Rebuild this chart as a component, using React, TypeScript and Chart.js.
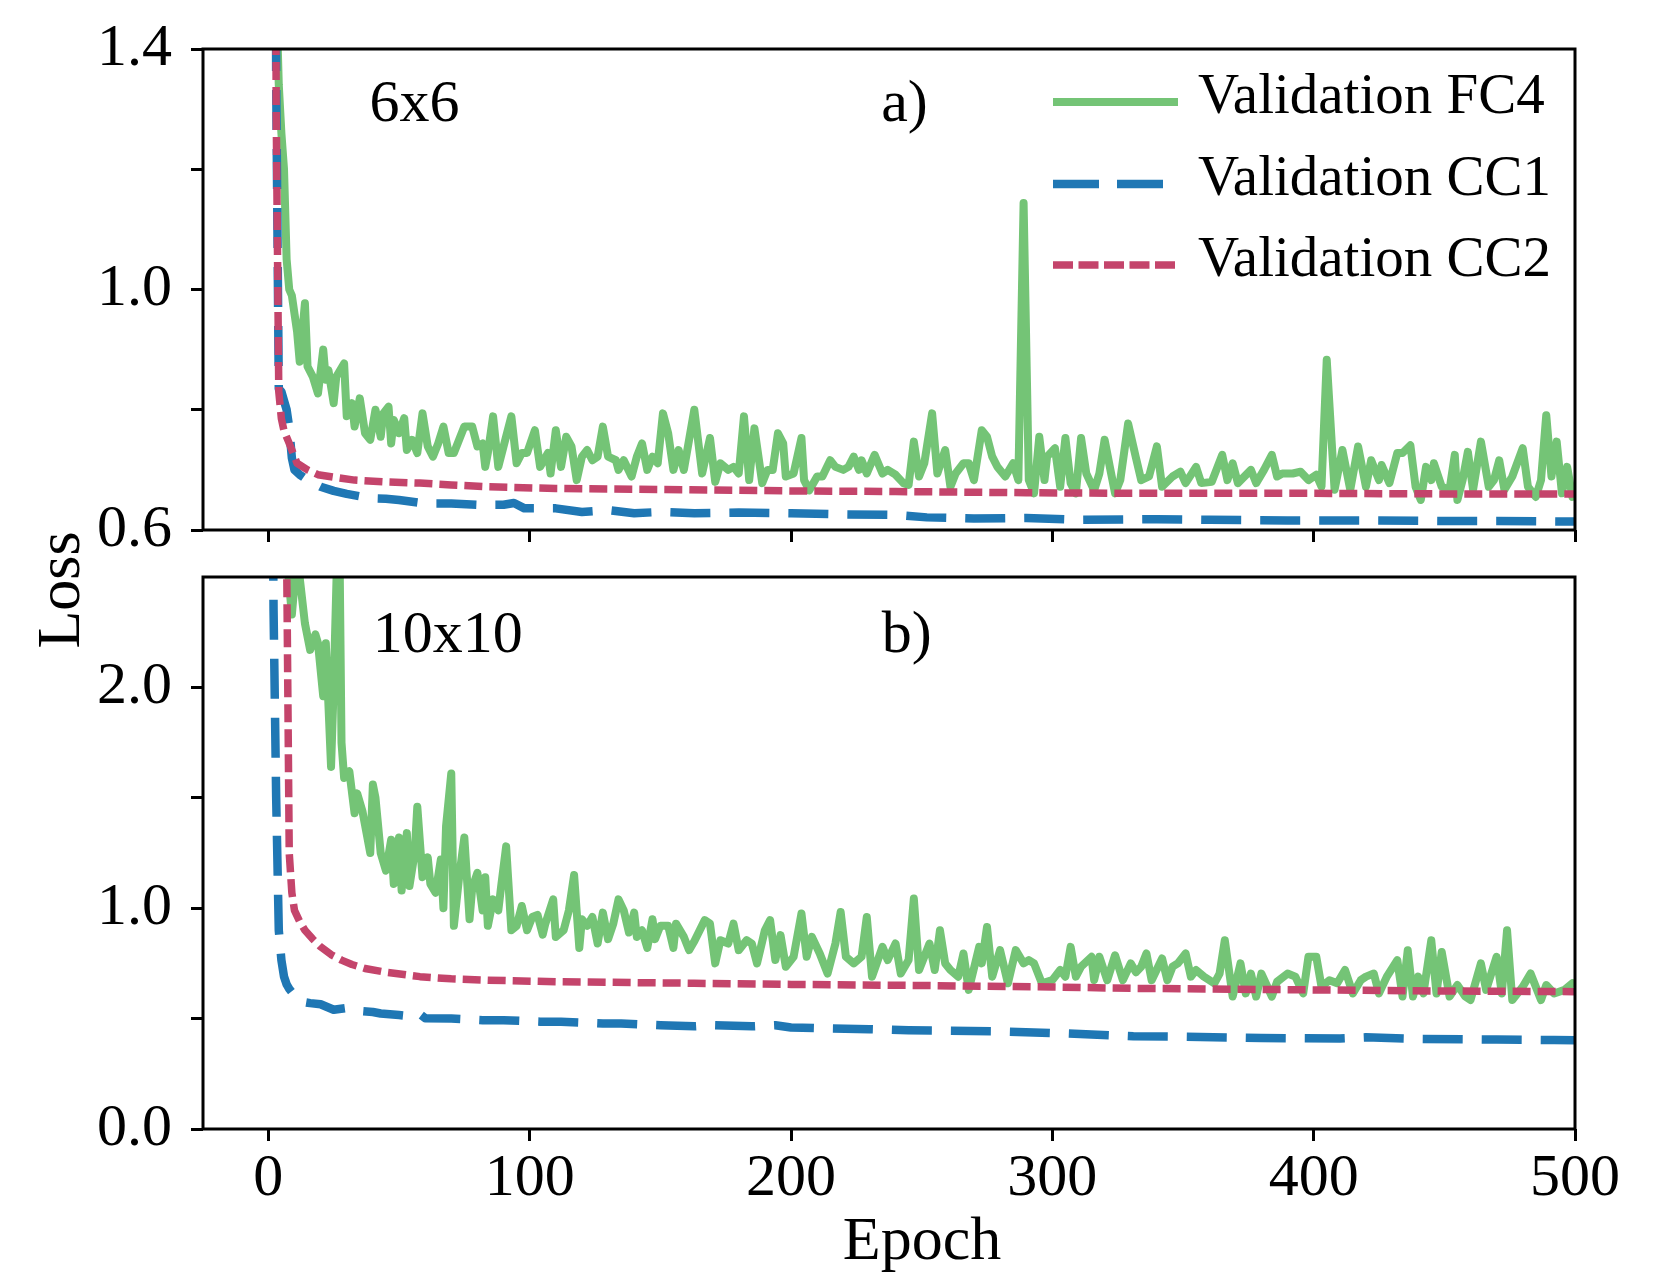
import React, { useEffect, useRef } from 'react';
import { Chart, registerables } from 'chart.js';

Chart.register(...registerables);

// ---------- labels / ticks ----------
const SERIES_LABELS = ['Validation FC4', 'Validation CC1', 'Validation CC2'];
const PANEL_TITLES_A = ['6x6', 'a)'];
const PANEL_TITLES_B = ['10x10', 'b)'];
const X_TITLE = 'Epoch';
const Y_TITLE = 'Loss';
const X_TICKS = [0, 100, 200, 300, 400, 500];
const Y_TICKS_A = [0.6, 0.8, 1.0, 1.2, 1.4];
const Y_LABELED_A = [0.6, 1.0, 1.4];
const Y_TICKS_B = [0, 0.5, 1.0, 1.5, 2.0];
const Y_LABELED_B = [0, 1.0, 2.0];

// ---------- panel a) 6x6 ----------
const fc4EpochsA = [
  3, 4, 5, 6, 7, 8, 9, 11, 12, 14,
  15, 17, 19, 21, 22, 23, 25, 26, 29, 30,
  32, 33, 35, 37, 39, 41, 43, 44, 46, 47,
  48, 50, 52, 53, 55, 57, 59, 61, 63, 65,
  67, 69, 71, 73, 75, 78, 80, 82, 83, 84,
  86, 88, 90, 93, 95, 97, 99, 102, 104, 107,
  108, 110, 112, 114, 116, 118, 120, 122, 124, 126,
  128, 130, 133, 134, 136, 139, 141, 143, 145, 147,
  149, 151, 153, 155, 157, 159, 163, 166, 169, 171,
  173, 176, 178, 180, 182, 184, 186, 189, 191, 193,
  195, 197, 198, 201, 204, 205, 207, 210, 212, 215,
  217, 220, 222, 224, 226, 227, 229, 232, 235, 237,
  240, 243, 245, 247, 249, 251, 254, 256, 259, 261,
  263, 266, 268, 270, 273, 275, 277, 279, 282, 285,
  287, 289, 291, 293, 295, 297, 298, 301, 303, 305,
  307, 309, 311, 313, 316, 318, 320, 322, 324, 326,
  329, 332, 334, 337, 340, 342, 346, 349, 351, 355,
  357, 361, 365, 367, 369, 371, 376, 378, 381, 384,
  386, 388, 392, 395, 398, 401, 403, 405, 408, 411,
  414, 417, 420, 422, 425, 426, 429, 432, 434, 437,
  439, 441, 443, 445, 446, 449, 452, 454, 455, 457,
  459, 461, 464, 467, 469, 471, 473, 476, 480, 482,
  485, 487, 489, 491, 493, 495, 497, 499, 500,
];
const fc4LossA = [
  1.5, 1.34, 1.26, 1.2, 1.05, 1.0, 0.99, 0.93, 0.88, 0.977,
  0.872, 0.855, 0.827, 0.9, 0.85, 0.866, 0.811, 0.855, 0.877, 0.789,
  0.811, 0.772, 0.819, 0.761, 0.75, 0.8, 0.755, 0.794, 0.805, 0.744,
  0.783, 0.761, 0.786, 0.733, 0.75, 0.728, 0.794, 0.739, 0.722, 0.744,
  0.772, 0.728, 0.728, 0.75, 0.772, 0.772, 0.739, 0.744, 0.705, 0.728,
  0.789, 0.705, 0.739, 0.789, 0.711, 0.728, 0.728, 0.766, 0.705, 0.728,
  0.694, 0.766, 0.705, 0.755, 0.739, 0.683, 0.722, 0.733, 0.716, 0.722,
  0.772, 0.722, 0.716, 0.7, 0.716, 0.689, 0.722, 0.744, 0.7, 0.722,
  0.711, 0.794, 0.761, 0.7, 0.733, 0.7, 0.8, 0.694, 0.753, 0.68,
  0.711, 0.7, 0.705, 0.694, 0.789, 0.683, 0.769, 0.678, 0.7, 0.7,
  0.761, 0.744, 0.689, 0.694, 0.753, 0.683, 0.666, 0.689, 0.689, 0.716,
  0.705, 0.7, 0.705, 0.722, 0.7, 0.716, 0.694, 0.725, 0.694, 0.7,
  0.692, 0.678, 0.675, 0.747, 0.689, 0.711, 0.794, 0.694, 0.733, 0.672,
  0.694, 0.711, 0.711, 0.683, 0.766, 0.755, 0.722, 0.705, 0.689, 0.711,
  0.683, 1.144, 0.683, 0.661, 0.755, 0.683, 0.722, 0.736, 0.672, 0.753,
  0.678, 0.661, 0.753, 0.694, 0.666, 0.694, 0.75, 0.705, 0.661, 0.683,
  0.777, 0.72, 0.683, 0.689, 0.739, 0.672, 0.689, 0.697, 0.678, 0.705,
  0.678, 0.68, 0.725, 0.683, 0.711, 0.678, 0.7, 0.678, 0.7, 0.725,
  0.689, 0.694, 0.694, 0.697, 0.683, 0.692, 0.672, 0.883, 0.667, 0.733,
  0.667, 0.739, 0.672, 0.716, 0.683, 0.708, 0.678, 0.728, 0.728, 0.741,
  0.672, 0.65, 0.705, 0.683, 0.711, 0.672, 0.667, 0.725, 0.65, 0.683,
  0.73, 0.667, 0.747, 0.672, 0.683, 0.716, 0.667, 0.689, 0.736, 0.672,
  0.655, 0.683, 0.791, 0.689, 0.747, 0.661, 0.705, 0.655, 0.66,
];
const cc1EpochsA = [
  2, 3, 4, 5, 6, 7, 8, 9, 10, 12,
  15, 20, 25, 30, 35, 38, 45, 50, 55, 60,
  70, 80, 90, 94, 98, 110, 120, 130, 140, 150,
  163, 180, 200, 220, 240, 252, 270, 290, 310, 340,
  360, 390, 420, 450, 470, 500,
];
const cc1LossA = [
  3.0, 1.35, 0.835, 0.83, 0.815, 0.8, 0.77, 0.72, 0.7, 0.692,
  0.683, 0.672, 0.665, 0.66, 0.656, 0.653, 0.652, 0.65, 0.647, 0.644,
  0.644, 0.642, 0.642, 0.645, 0.636, 0.636, 0.63, 0.633, 0.628, 0.63,
  0.628, 0.629, 0.628, 0.626, 0.625, 0.621, 0.619, 0.62, 0.617, 0.618,
  0.617, 0.616, 0.616, 0.615, 0.615, 0.614,
];
const cc2EpochsA = [
  2, 3, 4, 5, 6, 8, 11, 15, 19, 25,
  33, 45, 58, 70, 84, 110, 160, 200, 240, 290,
  330, 400, 450, 500,
];
const cc2LossA = [
  3.0, 1.3, 0.83, 0.785, 0.765, 0.744, 0.711, 0.7, 0.692, 0.688,
  0.683, 0.68, 0.678, 0.675, 0.672, 0.669, 0.667, 0.665, 0.664, 0.662,
  0.661, 0.661, 0.66, 0.66,
];

// ---------- panel b) 10x10 ----------
const fc4EpochsB = [
  6, 7, 9, 11, 14, 16, 18, 19, 21, 22,
  24, 25, 27, 28, 29, 31, 33, 34, 36, 39,
  40, 41, 43, 45, 47, 48, 50, 51, 53, 54,
  56, 57, 59, 61, 62, 64, 66, 67, 68, 70,
  71, 73, 75, 77, 78, 80, 82, 83, 84, 86,
  88, 89, 91, 93, 95, 97, 99, 101, 103, 105,
  106, 109, 110, 113, 115, 117, 119, 120, 122, 124,
  126, 128, 130, 132, 134, 136, 138, 140, 141, 143,
  145, 147, 148, 150, 153, 155, 156, 159, 161, 163,
  167, 169, 171, 173, 176, 178, 180, 183, 185, 187,
  190, 192, 194, 196, 198, 201, 204, 206, 208, 211,
  214, 217, 219, 221, 224, 227, 229, 231, 235, 237,
  240, 242, 245, 247, 249, 251, 253, 255, 257, 259,
  261, 264, 266, 268, 272, 273, 275, 277, 280, 283,
  286, 289, 291, 293, 296, 300, 303, 305, 307, 309,
  311, 315, 316, 318, 321, 324, 327, 330, 332, 334,
  336, 338, 342, 344, 346, 348, 351, 353, 355, 358,
  362, 364, 366, 369, 372, 374, 376, 378, 380, 384,
  386, 390, 393, 396, 398, 401, 403, 406, 409, 412,
  415, 418, 420, 423, 425, 428, 432, 434, 436, 438,
  440, 442, 445, 447, 449, 452, 455, 458, 460, 464,
  466, 470, 472, 474, 476, 480, 483, 487, 489, 492,
  496, 499, 500,
];
const fc4LossB = [
  3.0, 2.6, 2.33, 2.6, 2.29, 2.17, 2.24, 2.2, 1.96, 2.2,
  1.64, 2.0, 2.9, 1.75, 1.59, 1.62, 1.43, 1.52, 1.44, 1.25,
  1.56, 1.5, 1.25, 1.17, 1.31, 1.11, 1.32, 1.08, 1.34, 1.1,
  1.25, 1.46, 1.14, 1.23, 1.11, 1.07, 1.22, 1.0, 1.37, 1.61,
  0.92, 1.14, 1.32, 0.95, 1.09, 1.16, 0.99, 1.14, 0.92, 1.04,
  0.99, 1.09, 1.28, 0.9, 0.92, 1.01, 0.9, 0.96, 0.97, 0.88,
  0.93, 1.04, 0.87, 0.9, 0.99, 1.15, 0.82, 0.95, 0.92, 0.96,
  0.84, 0.98, 0.86, 0.93, 1.04, 0.99, 0.89, 0.98, 0.87, 0.9,
  0.82, 0.95, 0.86, 0.92, 0.92, 0.82, 0.93, 0.87, 0.81, 0.85,
  0.946, 0.93, 0.75, 0.855, 0.84, 0.93, 0.81, 0.855, 0.84, 0.75,
  0.9, 0.946, 0.765, 0.878, 0.735, 0.78, 0.976, 0.78, 0.87, 0.795,
  0.704, 0.84, 0.983, 0.78, 0.75, 0.78, 0.96, 0.69, 0.825, 0.765,
  0.84, 0.704, 0.765, 1.044, 0.72, 0.78, 0.84, 0.72, 0.9, 0.75,
  0.72, 0.69, 0.795, 0.63, 0.825, 0.75, 0.915, 0.69, 0.81, 0.66,
  0.81, 0.75, 0.765, 0.75, 0.66, 0.674, 0.72, 0.69, 0.825, 0.69,
  0.735, 0.78, 0.674, 0.78, 0.674, 0.787, 0.674, 0.75, 0.71, 0.735,
  0.795, 0.674, 0.772, 0.674, 0.735, 0.75, 0.795, 0.69, 0.72, 0.69,
  0.66, 0.704, 0.855, 0.6, 0.75, 0.614, 0.704, 0.6, 0.704, 0.6,
  0.667, 0.704, 0.69, 0.614, 0.78, 0.78, 0.644, 0.674, 0.66, 0.72,
  0.614, 0.674, 0.69, 0.704, 0.614, 0.69, 0.765, 0.6, 0.81, 0.6,
  0.69, 0.614, 0.855, 0.614, 0.802, 0.6, 0.652, 0.6, 0.584, 0.75,
  0.63, 0.78, 0.614, 0.9, 0.584, 0.644, 0.704, 0.584, 0.652, 0.614,
  0.63, 0.66, 0.644,
];
const cc1EpochsB = [
  1, 2, 3, 4, 5, 6, 7, 8, 10, 13,
  16, 20, 25, 31, 35, 40, 43, 50, 55, 58,
  60, 70, 82, 90, 104, 112, 128, 135, 150, 163,
  170, 185, 194, 200, 215, 230, 245, 260, 280, 300,
  315, 331, 350, 380, 410, 420, 440, 470, 492, 500,
];
const cc1LossB = [
  4.0, 2.35, 1.5, 0.9, 0.765, 0.69, 0.655, 0.635, 0.605, 0.576,
  0.57, 0.565, 0.54, 0.55, 0.535, 0.53, 0.523, 0.516, 0.51, 0.52,
  0.502, 0.5, 0.493, 0.493, 0.486, 0.486, 0.478, 0.478, 0.47, 0.465,
  0.47, 0.465, 0.47, 0.46, 0.455, 0.452, 0.447, 0.445, 0.442, 0.435,
  0.428, 0.42, 0.418, 0.412, 0.41, 0.415, 0.408, 0.405, 0.403, 0.402,
];
const cc2EpochsB = [
  6, 7, 8, 9, 10, 12, 14, 17, 20, 24,
  28, 32, 37, 45, 58, 70, 84, 110, 163, 200,
  250, 300, 331, 400, 450, 500,
];
const cc2LossB = [
  6.0, 2.6, 1.25, 1.07, 0.99, 0.94, 0.9, 0.86, 0.825, 0.79,
  0.765, 0.745, 0.727, 0.71, 0.69, 0.68, 0.674, 0.667, 0.66, 0.655,
  0.65, 0.643, 0.637, 0.63, 0.625, 0.622,
];

// ---------- styles ----------
const GREEN = '#74c476';
const BLUE = '#1f77b4';
const RED = '#c4446b';
const SERIF = '"Liberation Serif", "Times New Roman", serif';
const TICK_FONT = 60;
const W_GREEN = 8;
const W_BLUE = 8.5;
const W_RED = 7.5;
const DASH_CC1 = [40, 19];
const DASH_CC2 = [18, 7];
const LEGEND_DASH_CC1 = [46, 18];
const LEGEND_DASH_CC2 = [20, 5.5];

const zip = (xs: number[], ys: number[]) => xs.map((x, i) => ({ x, y: ys[i] }));

function datasets(fe: number[], fl: number[], be: number[], bl: number[], re: number[], rl: number[]) {
  const common = {
    pointRadius: 0,
    tension: 0,
    borderJoinStyle: 'round',
    borderCapStyle: 'butt',
    clip: 0,
    fill: false,
  };
  return [
    { ...common, label: SERIES_LABELS[0], data: zip(fe, fl), borderColor: GREEN, borderWidth: W_GREEN, order: 3 },
    { ...common, label: SERIES_LABELS[1], data: zip(be, bl), borderColor: BLUE, borderWidth: W_BLUE, borderDash: DASH_CC1, order: 2 },
    { ...common, label: SERIES_LABELS[2], data: zip(re, rl), borderColor: RED, borderWidth: W_RED, borderDash: DASH_CC2, order: 1 },
  ];
}

const framePlugin = {
  id: 'frame',
  afterDatasetsDraw(chart: any) {
    const { ctx, chartArea: a } = chart;
    ctx.save();
    ctx.strokeStyle = '#000';
    ctx.lineWidth = 3;
    ctx.strokeRect(a.left, a.top, a.right - a.left, a.bottom - a.top);
    ctx.restore();
  },
};

function panelTextPlugin(titles: string[], pos: number[][]) {
  return {
    id: 'panelText',
    afterDraw(chart: any) {
      const { ctx, scales } = chart;
      ctx.save();
      ctx.fillStyle = '#000';
      ctx.font = `${TICK_FONT}px ${SERIF}`;
      ctx.textAlign = 'left';
      ctx.textBaseline = 'alphabetic';
      titles.forEach((t, i) => {
        ctx.fillText(t, scales.x.getPixelForValue(pos[i][0]), scales.y.getPixelForValue(pos[i][1]));
      });
      ctx.restore();
    },
  };
}

const legendPlugin = {
  id: 'customLegend',
  afterDraw(chart: any) {
    const { ctx } = chart;
    const rows = [
      { color: GREEN, width: W_GREEN, dash: [] as number[] },
      { color: BLUE, width: W_BLUE, dash: LEGEND_DASH_CC1 },
      { color: RED, width: W_RED, dash: LEGEND_DASH_CC2 },
    ];
    const x0 = 1053, x1 = 1178, tx = 1198;
    const ys = [102, 184, 265];
    ctx.save();
    rows.forEach((r, i) => {
      ctx.beginPath();
      ctx.strokeStyle = r.color;
      ctx.lineWidth = r.width;
      ctx.lineCap = 'butt';
      ctx.setLineDash(r.dash);
      ctx.moveTo(x0, ys[i]);
      ctx.lineTo(x1, ys[i]);
      ctx.stroke();
    });
    ctx.setLineDash([]);
    ctx.fillStyle = '#000';
    ctx.font = `57px ${SERIF}`;
    ctx.textAlign = 'left';
    ctx.textBaseline = 'alphabetic';
    SERIES_LABELS.forEach((l, i) => ctx.fillText(l, tx, ys[i] + 11));
    ctx.restore();
  },
};

const axisTitlePlugin = {
  id: 'axisTitles',
  afterDraw(chart: any) {
    const { ctx } = chart;
    ctx.save();
    ctx.fillStyle = '#000';
    ctx.font = `62px ${SERIF}`;
    ctx.textAlign = 'center';
    ctx.textBaseline = 'alphabetic';
    ctx.fillText(X_TITLE, 922, 1259 - 520);
    ctx.translate(79, 590 - 520);
    ctx.rotate(-Math.PI / 2);
    ctx.fillText(Y_TITLE, 0, 0);
    ctx.restore();
  },
};

function makeScales(opts: {
  yMin: number; yMax: number; yTicks: number[]; yLabeled: number[]; xLabels: boolean; xHeight: number;
}) {
  const grid = {
    drawOnChartArea: false,
    drawTicks: true,
    tickLength: 12,
    tickWidth: 3,
    tickColor: '#000',
  };
  return {
    x: {
      type: 'linear',
      min: -25,
      max: 500,
      bounds: 'data',
      afterBuildTicks: (s: any) => { s.ticks = X_TICKS.map((v) => ({ value: v })); },
      afterFit: (s: any) => { s.height = opts.xHeight; s.paddingLeft = 0; s.paddingRight = 0; },
      grid,
      border: { display: false },
      ticks: {
        autoSkip: false,
        maxRotation: 0,
        padding: 2,
        color: '#000',
        font: { family: SERIF, size: TICK_FONT },
        callback: (v: number) => (opts.xLabels ? String(v) : ''),
      },
    },
    y: {
      type: 'linear',
      min: opts.yMin,
      max: opts.yMax,
      bounds: 'data',
      afterBuildTicks: (s: any) => { s.ticks = opts.yTicks.map((v) => ({ value: v })); },
      afterFit: (s: any) => { s.width = 203; s.paddingTop = 0; s.paddingBottom = 0; },
      grid,
      border: { display: false },
      ticks: {
        autoSkip: false,
        padding: 19,
        color: '#000',
        font: { family: SERIF, size: TICK_FONT },
        callback: (v: number) => (opts.yLabeled.includes(v) ? v.toFixed(1) : ''),
      },
    },
  };
}

export default function App() {
  const topRef = useRef<HTMLCanvasElement>(null);
  const botRef = useRef<HTMLCanvasElement>(null);

  useEffect(() => {
    const top = new Chart(topRef.current as HTMLCanvasElement, {
      type: 'line',
      data: { datasets: datasets(fc4EpochsA, fc4LossA, cc1EpochsA, cc1LossA, cc2EpochsA, cc2LossA) as any },
      options: {
        animation: false,
        responsive: false,
        devicePixelRatio: 1,
        events: [],
        layout: { padding: { left: 0, right: 80, top: 49, bottom: 0 } },
        plugins: { legend: { display: false }, tooltip: { enabled: false } },
        scales: makeScales({ yMin: 0.6, yMax: 1.4, yTicks: Y_TICKS_A, yLabeled: Y_LABELED_A, xLabels: false, xHeight: 30 }) as any,
      },
      plugins: [framePlugin, panelTextPlugin(PANEL_TITLES_A, [[38.7, 1.28], [234.5, 1.28]]), legendPlugin],
    });
    const bot = new Chart(botRef.current as HTMLCanvasElement, {
      type: 'line',
      data: { datasets: datasets(fc4EpochsB, fc4LossB, cc1EpochsB, cc1LossB, cc2EpochsB, cc2LossB) as any },
      options: {
        animation: false,
        responsive: false,
        devicePixelRatio: 1,
        events: [],
        layout: { padding: { left: 0, right: 80, top: 57, bottom: 0 } },
        plugins: { legend: { display: false }, tooltip: { enabled: false } },
        scales: makeScales({ yMin: 0, yMax: 2.5, yTicks: Y_TICKS_B, yLabeled: Y_LABELED_B, xLabels: true, xHeight: 143 }) as any,
      },
      plugins: [framePlugin, panelTextPlugin(PANEL_TITLES_B, [[40, 2.16], [234.7, 2.16]]), axisTitlePlugin],
    });
    return () => {
      top.destroy();
      bot.destroy();
    };
  }, []);

  return (
    <div style={{ position: 'absolute', left: 0, top: 0, width: 1655, height: 1272, background: '#fff' }}>
      <canvas
        ref={topRef}
        width={1655}
        height={560}
        style={{ position: 'absolute', left: 0, top: 0, width: 1655, height: 560 }}
      />
      <canvas
        ref={botRef}
        width={1655}
        height={752}
        style={{ position: 'absolute', left: 0, top: 520, width: 1655, height: 752 }}
      />
    </div>
  );
}
